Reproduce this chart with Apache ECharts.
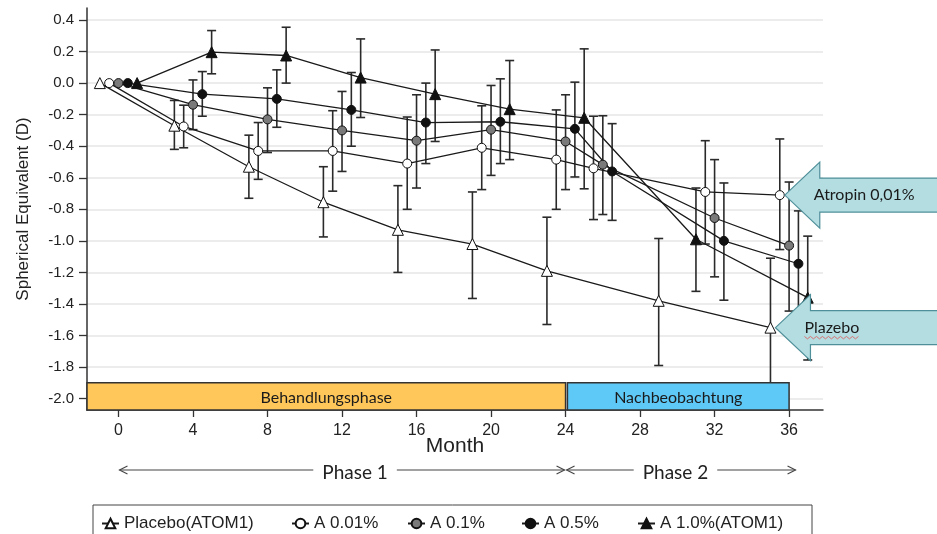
<!DOCTYPE html>
<html>
<head>
<meta charset="utf-8">
<script src="https://cdn.jsdelivr.net/npm/echarts@6/dist/echarts.min.js"></script>
<style>
  html, body { margin: 0; padding: 0; background: #fff; }
  #chart { width: 937px; height: 534px; }
</style>
</head>
<body>
<div id="chart"></div>
<script>
// axis ticks
const monthTicks = [0, 4, 8, 12, 16, 20, 24, 28, 32, 36];
const seTicks = [-2.0, -1.8, -1.6, -1.4, -1.2, -1.0, -0.8, -0.6, -0.4, -0.2, 0.0, 0.2, 0.4];

const seriesNames = ['Placebo(ATOM1)', 'A 0.01%', 'A 0.1%', 'A 0.5%', 'A 1.0%(ATOM1)'];

// plotted month (groups are shifted a little so the bars don't overlap), mean and SD range
const placeboMonth = [-1, 3, 7, 11, 15, 19, 23, 29, 35];
const placeboMean  = [0, -0.27, -0.53, -0.755, -0.93, -1.02, -1.19, -1.38, -1.55];
const placeboLow   = [0, -0.42, -0.73, -0.975, -1.20, -1.365, -1.53, -1.79, -1.99];
const placeboHigh  = [0, -0.11, -0.33, -0.53, -0.65, -0.69, -0.85, -0.985, -1.11];

const a001Month = [-0.5, 3.5, 7.5, 11.5, 15.5, 19.5, 23.5, 25.5, 31.5, 35.5];
const a001Mean  = [0, -0.275, -0.43, -0.43, -0.51, -0.41, -0.485, -0.54, -0.69, -0.71];
const a001Low   = [0, -0.41, -0.61, -0.685, -0.80, -0.675, -0.80, -0.865, -1.02, -1.055];
const a001High  = [0, -0.14, -0.25, -0.175, -0.215, -0.144, -0.17, -0.21, -0.365, -0.354];

const a01Month = [0, 4, 8, 12, 16, 20, 24, 26, 32, 36];
const a01Mean  = [0, -0.137, -0.23, -0.30, -0.365, -0.295, -0.37, -0.517, -0.855, -1.03];
const a01Low   = [0, -0.295, -0.44, -0.56, -0.665, -0.585, -0.675, -0.833, -1.228, -1.445];
const a01High  = [0, 0.02, -0.03, -0.053, -0.074, -0.015, -0.074, -0.207, -0.485, -0.627];

const a05Month = [0.5, 4.5, 8.5, 12.5, 16.5, 20.5, 24.5, 26.5, 32.5, 36.5];
const a05Mean  = [0, -0.07, -0.10, -0.17, -0.25, -0.245, -0.29, -0.56, -1.0, -1.145];
const a05Low   = [0, -0.21, -0.28, -0.40, -0.51, -0.51, -0.595, -0.87, -1.376, -1.48];
const a05High  = [0, 0.073, 0.084, 0.067, 0.0, 0.027, 0.006, -0.257, -0.633, -0.81];

const a10Month = [1, 5, 9, 13, 17, 21, 25, 31, 37];
const a10Mean  = [0, 0.196, 0.175, 0.035, -0.07, -0.165, -0.22, -0.99, -1.36];
const a10Low   = [0, 0.059, 0.0, -0.218, -0.37, -0.485, -0.67, -1.32, -1.755];
const a10High  = [0, 0.333, 0.354, 0.28, 0.21, 0.143, 0.217, -0.665, -0.97];

// phase bands on the bottom of the plot
const bandLabels = ['Behandlungsphase', 'Nachbeobachtung'];
const bandStart  = [-1.69, 24.1];
const bandEnd    = [24, 36];

// phase arrows below the axis
const phaseLabels = ['Phase 1', 'Phase 2'];
const phaseStart  = [0, 24];
const phaseEnd    = [24, 36.4];
const phaseTextAt = [12.7, 29.9];

const calloutLabels = ['Atropin 0,01%', 'Plazebo'];
const calloutSeries = [1, 0];

const X_MIN = -1.69, X_MAX = 37.82, Y_MIN = -2.072, Y_MAX = 0.476, BAND_TOP = -1.90;

const groups = [
  { month: placeboMonth, mean: placeboMean, low: placeboLow, high: placeboHigh, symbol: 'triangle', size: 11, fill: '#ffffff' },
  { month: a001Month, mean: a001Mean, low: a001Low, high: a001High, symbol: 'circle', size: 9, fill: '#ffffff' },
  { month: a01Month, mean: a01Mean, low: a01Low, high: a01High, symbol: 'circle', size: 9, fill: '#7a7a7a' },
  { month: a05Month, mean: a05Mean, low: a05Low, high: a05High, symbol: 'circle', size: 9, fill: '#111111' },
  { month: a10Month, mean: a10Mean, low: a10Low, high: a10High, symbol: 'triangle', size: 11, fill: '#111111' }
];

const sans = "'Liberation Sans', Arial, sans-serif";
const calibriLike = "Lato, 'Open Sans', sans-serif";

function errorBar(params, api) {
  const x = api.value(0);
  const top = api.coord([x, api.value(2)]);
  const bot = api.coord([x, api.value(1)]);
  const hw = 4.5;
  const style = { stroke: '#2a2a2a', lineWidth: 1.6 };
  return {
    type: 'group',
    children: [
      { type: 'line', shape: { x1: top[0], y1: top[1], x2: bot[0], y2: bot[1] }, style },
      { type: 'line', shape: { x1: top[0] - hw, y1: top[1], x2: top[0] + hw, y2: top[1] }, style },
      { type: 'line', shape: { x1: bot[0] - hw, y1: bot[1], x2: bot[0] + hw, y2: bot[1] }, style }
    ]
  };
}

const bandColors = ['#ffc75a', '#5ec8f7'];

function band(params, api) {
  const i = params.dataIndex;
  const p1 = api.coord([api.value(0), BAND_TOP]);
  const p2 = api.coord([api.value(1), Y_MIN]);
  return {
    type: 'group',
    children: [
      { type: 'rect', shape: { x: p1[0], y: p1[1], width: p2[0] - p1[0], height: p2[1] - p1[1] },
        style: { fill: bandColors[i], stroke: '#333', lineWidth: 1.5 } },
      { type: 'text', style: { text: bandLabels[i], x: (p1[0] + p2[0]) / 2, y: (p1[1] + p2[1]) / 2 + 1,
        align: 'center', verticalAlign: 'middle', fontSize: 16, fontFamily: calibriLike, fill: '#1a1a1a' } }
    ]
  };
}

const lineSeries = groups.map((g, k) => ({
  type: 'line',
  name: seriesNames[k],
  data: g.month.map((m, i) => [m, g.mean[i]]),
  symbol: g.symbol,
  symbolSize: g.size,
  showAllSymbol: true,
  itemStyle: { color: g.fill, borderColor: '#111', borderWidth: 1 },
  lineStyle: { color: '#1a1a1a', width: 1.3 },
  z: 3
}));

const barSeries = groups.map(g => ({
  type: 'custom',
  renderItem: errorBar,
  silent: true,
  encode: { x: 0, y: [1, 2] },
  data: g.month.map((m, i) => [m, g.low[i], g.high[i]]).filter(d => d[1] !== d[2]),
  z: 2
}));

const bandSeries = {
  type: 'custom',
  renderItem: band,
  silent: true,
  encode: { x: [0, 1] },
  data: bandStart.map((s, i) => [s, bandEnd[i]]),
  z: 6
};

const legendLeft = [96, 286, 402, 516, 632];

const option = {
  animation: false,
  backgroundColor: '#fff',
  grid: { left: 87, right: 114, top: 8, bottom: 124 },
  legend: seriesNames.map((n, i) => ({
    data: [n],
    left: legendLeft[i],
    top: 510,
    itemWidth: 17,
    itemHeight: 12,
    itemGap: 0,
    selectedMode: false,
    textStyle: { fontFamily: sans, fontSize: 17, color: '#222' }
  })),
  xAxis: {
    type: 'value',
    min: X_MIN,
    max: X_MAX,
    name: 'Month',
    nameLocation: 'middle',
    nameGap: 26,
    nameMoveOverlap: false,
    nameTextStyle: { fontFamily: sans, fontSize: 21, color: '#222' },
    axisLine: { onZero: false, lineStyle: { color: '#333', width: 1.5 } },
    axisTick: { customValues: monthTicks, length: 7, lineStyle: { color: '#333', width: 1.3 } },
    axisLabel: { customValues: monthTicks, margin: 13, fontFamily: sans, fontSize: 16, color: '#222' },
    splitLine: { show: false }
  },
  yAxis: {
    type: 'value',
    min: Y_MIN,
    max: Y_MAX,
    name: 'Spherical Equivalent (D)',
    nameLocation: 'middle',
    nameGap: 55,
    nameMoveOverlap: false,
    nameTextStyle: { fontFamily: sans, fontSize: 17, color: '#222' },
    axisLine: { show: true, onZero: false, lineStyle: { color: '#333', width: 1.5 } },
    axisTick: { show: true, customValues: seTicks, length: 8, lineStyle: { color: '#333', width: 1.3 } },
    axisLabel: { customValues: seTicks, margin: 13, fontFamily: sans, fontSize: 15, color: '#222',
      formatter: v => v.toFixed(1) },
    splitLine: { show: true, lineStyle: { color: '#e6e6e6', width: 1.5 } }
  },
  series: [...barSeries, ...lineSeries, bandSeries]
};

const chart = echarts.init(document.getElementById('chart'));
chart.setOption(option);

// annotations that sit outside the data marks
const px = m => chart.convertToPixel({ xAxisIndex: 0 }, m);
const graphics = [];

const arrowY = 470;
phaseLabels.forEach((label, i) => {
  const x1 = px(phaseStart[i]) + 1, x2 = px(phaseEnd[i]) - 1;
  const st = { stroke: '#444', lineWidth: 1.1, fill: 'none' };
  graphics.push(
    { type: 'line', shape: { x1, y1: arrowY, x2, y2: arrowY }, style: st },
    { type: 'polyline', shape: { points: [[x1 + 8, arrowY - 4], [x1, arrowY], [x1 + 8, arrowY + 4]] }, style: st },
    { type: 'polyline', shape: { points: [[x2 - 8, arrowY - 4], [x2, arrowY], [x2 - 8, arrowY + 4]] }, style: st },
    { type: 'text', x: px(phaseTextAt[i]), y: arrowY + 3, style: { text: label, align: 'center', verticalAlign: 'middle',
      fontFamily: calibriLike, fontSize: 19, fill: '#222', backgroundColor: '#fff', padding: [0, 9] } }
  );
});

calloutLabels.forEach((label, i) => {
  const s = groups[calloutSeries[i]];
  const last = s.month.length - 1;
  const p = chart.convertToPixel({ gridIndex: 0 }, [s.month[last], s.mean[last]]);
  const tx = p[0] + 5, ty = p[1];
  const pts = [[0, 0], [35, -33], [35, -17], [170, -17], [170, 17], [35, 17], [35, 33]]
    .map(q => [tx + q[0], ty + q[1]]);
  graphics.push(
    { type: 'polygon', shape: { points: pts }, style: { fill: '#b3dde1', stroke: '#4f8f99', lineWidth: 1.2 }, z: 10 },
    { type: 'text', x: tx + 29, y: ty, style: { text: label, align: 'left', verticalAlign: 'middle',
      fontFamily: calibriLike, fontSize: 16, fill: '#1a1a1a' }, z: 11 }
  );
  if (label === 'Plazebo') {
    const zz = [];
    for (let k = 0; k <= 18; k++) zz.push([tx + 29 + k * 3, ty + 10 + (k % 2 ? 1.2 : -1.2)]);
    graphics.push({ type: 'polyline', shape: { points: zz }, style: { stroke: '#e05555', lineWidth: 0.8, fill: 'none' }, z: 11 });
  }
});

graphics.push({ type: 'rect', shape: { x: 93, y: 505, width: 719, height: 40 },
  style: { fill: 'none', stroke: '#444', lineWidth: 1 } });

chart.setOption({ graphic: graphics });
</script>
</body>
</html>
